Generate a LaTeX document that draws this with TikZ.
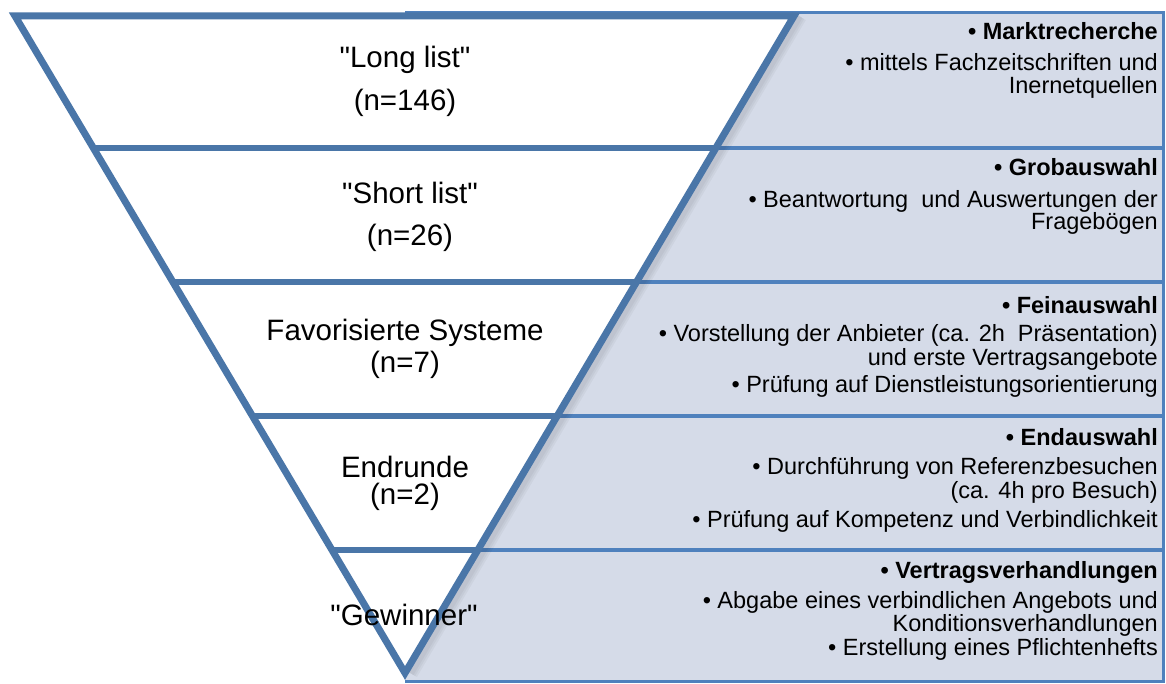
\documentclass[tikz,border=0pt]{standalone}
\usepackage{fontspec}
\setmainfont{Liberation Sans}[Ligatures=TeXOff]
\usetikzlibrary{calc}
\definecolor{funnel}{HTML}{4A76A8}
\definecolor{bandline}{HTML}{4F81BD}
\definecolor{bandfill}{HTML}{D5DBE8}

\begin{document}
\begin{tikzpicture}[x=1pt,y=-1pt,
  stage/.style={font=\fontsize{29.5}{34}\selectfont, inner sep=0pt},
  note/.style={font=\fontsize{23.5}{28}\selectfont, anchor=base east, inner sep=0pt},
  head/.style={note, font=\fontsize{23.5}{28}\selectfont\bfseries}]
\useasboundingbox (0,0) rectangle (1166,684);

% corners of the funnel
\coordinate (TL) at (15,16);
\coordinate (TR) at (794,16);
\coordinate (TIP) at (405,673);

% shaded panel with the step descriptions
\fill[bandfill] (405,13) rectangle (1163,681);
\foreach \y in {148,282,416,550}
  \draw[bandline, line width=3.5pt] (405,\y) -- (1163,\y);
\draw[bandline, line width=3pt] (405,13) -- (1163,13) -- (1163,681) -- (405,681);

% soft shadow along the right flank
\foreach \w in {16,12,8}
  \draw[black, opacity=0.035, line width=\w pt] ($(TR)+(5,0)$) -- ($(TIP)+(5,0)$);

% funnel body
\fill[white] (TL) -- (TR) -- (TIP) -- cycle;
\foreach \y in {148,282,416,550}
  \draw[funnel, line width=6pt]
    ($(TL)!{(\y-16)/657}!(TIP)$) -- ($(TR)!{(\y-16)/657}!(TIP)$);
\draw[funnel, line width=7pt, line join=miter] (TL) -- (TR) -- (TIP) -- cycle;

% stage labels
\node[stage] (s1a) at (405,60)  {"Long list"};
\node[stage] (s1b) at (405,103) {(n=146)};
\node[stage] (s2a) at (410,193) {"Short list"};
\node[stage] (s2b) at (410,238) {(n=26)};
\node[stage] (s3a) at (405,333) {Favorisierte Systeme};
\node[stage] (s3b) at (405,365) {(n=7)};
\node[stage] (s4a) at (405,467) {Endrunde};
\node[stage] (s4b) at (405,497) {(n=2)};
\node[stage] (s5a) at (404,615) {"Gewinner"};

% step descriptions
\node[head] (d1a) at (1158,40)  {• Marktrecherche};
\node[note] (d1b) at (1158,71)  {• mittels Fachzeitschriften und};
\node[note] (d1c) at (1158,94)  {Inernetquellen};

\node[head] (d2a) at (1158,176) {• Grobauswahl};
\node[note] (d2b) at (1158,208) {• Beantwortung\ \ und Auswertungen der};
\node[note] (d2c) at (1158,230) {Fragebögen};

\node[head] (d3a) at (1158,313) {• Feinauswahl};
\node[note] (d3b) at (1158,341) {• Vorstellung der Anbieter (ca. 2h\ \ Präsentation)};
\node[note] (d3c) at (1158,365) {und erste Vertragsangebote};
\node[note] (d3d) at (1158,392) {• Prüfung auf Dienstleistungsorientierung};

\node[head] (d4a) at (1158,445) {• Endauswahl};
\node[note] (d4b) at (1158,474) {• Durchführung von Referenzbesuchen};
\node[note] (d4c) at (1158,498) {(ca. 4h pro Besuch)};
\node[note] (d4d) at (1158,527) {• Prüfung auf Kompetenz und Verbindlichkeit};

\node[head] (d5a) at (1158,578) {• Vertragsverhandlungen};
\node[note] (d5b) at (1158,608) {• Abgabe eines verbindlichen Angebots und};
\node[note] (d5c) at (1158,631) {Konditionsverhandlungen};
\node[note] (d5d) at (1158,655) {• Erstellung eines Pflichtenhefts};
\end{tikzpicture}
\end{document}
